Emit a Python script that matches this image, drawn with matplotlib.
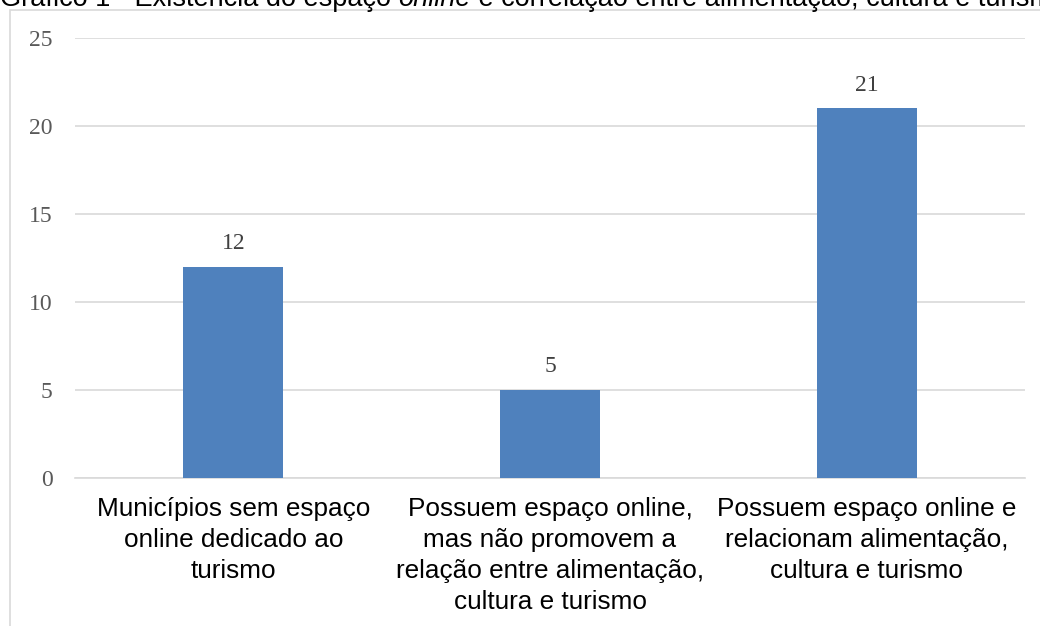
import matplotlib
matplotlib.use('Agg')
import matplotlib.pyplot as plt
from matplotlib.patches import Rectangle

# dados
categorias = ['Municípios sem espaço\nonline dedicado ao\nturismo',
              'Possuem espaço online,\nmas não promovem a\nrelação entre alimentação,\ncultura e turismo',
              'Possuem espaço online e\nrelacionam alimentação,\ncultura e turismo']
valores = [12, 5, 21]
yticks = [0, 5, 10, 15, 20, 25]

fig = plt.figure(figsize=(10.4, 6.26), dpi=100)
ax = fig.add_axes([75 / 1040, 1 - 478 / 626, 950 / 1040, 440 / 626])

# moldura do gráfico
fig.patches.append(Rectangle((10 / 1040, -0.1), 1.2, 1 - 9.5 / 626 + 0.1,
                             transform=fig.transFigure, fill=False,
                             edgecolor='#D9D9D9', linewidth=1.2))

x = list(range(len(valores)))
ax.bar(x, valores, width=0.316, color='#4F81BD', zorder=3)
for a, b in zip(x, valores):
    ax.text(a, b + 1.0, '%d' % b, ha='center', va='baseline',
            fontsize=17, family='Liberation Serif', color='#404040')

ax.set_xlim(-0.5, 2.5)
ax.set_ylim(0, 25)
ax.set_yticks(yticks)
ax.set_yticklabels([str(t) for t in yticks], family='Liberation Serif',
                   fontsize=17, color='#595959')
ax.set_xticks(x)
ax.set_xticklabels(categorias, family='Liberation Sans',
                   fontsize=18.8, color='black', linespacing=1.37)
ax.tick_params(axis='y', length=0, pad=16)
ax.tick_params(axis='x', length=0, pad=13.5)
ax.grid(axis='y', color='#D9D9D9', linewidth=1.2, zorder=0)
for s in ['top', 'right', 'left']:
    ax.spines[s].set_visible(False)
ax.spines['bottom'].set_color('#D9D9D9')
ax.spines['bottom'].set_linewidth(1.2)

# título (cortado no topo, como no original)
fig.canvas.draw()
r = fig.canvas.get_renderer()
partes = [('Gráfico 1 - Existência do espaço ', 'normal'),
          ('online', 'italic'),
          (' e correlação entre alimentação, cultura e turismo', 'normal')]
px = 0
for txt, st in partes:
    t = fig.text(px / 1040, 1 - 6 / 626, txt, fontsize=19.5, style=st,
                 family='Liberation Sans', va='baseline', ha='left')
    px += t.get_window_extent(r).width

fig.savefig('out.png', dpi=100)
